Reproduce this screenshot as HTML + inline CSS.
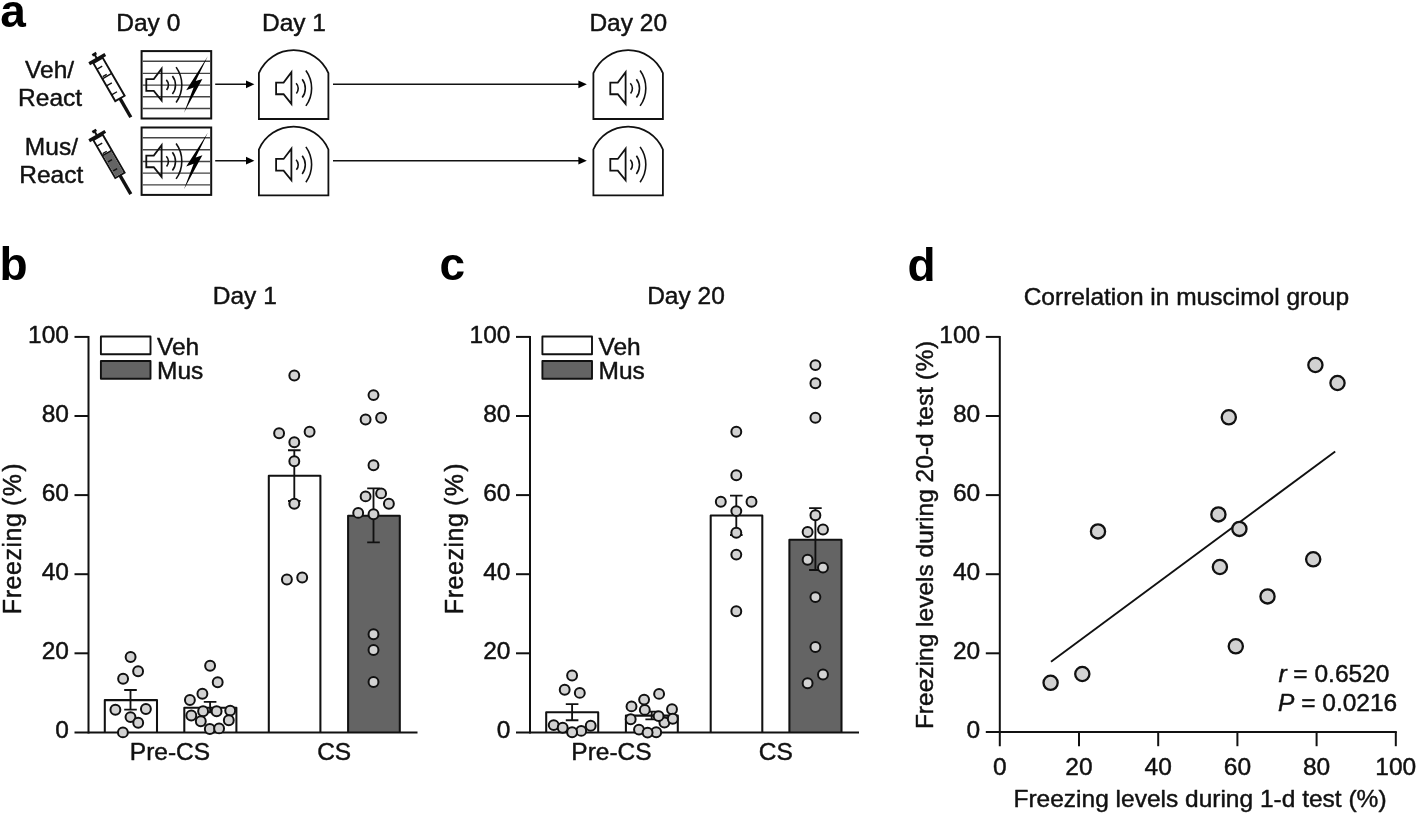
<!DOCTYPE html>
<html><head><meta charset="utf-8"><title>Figure</title>
<style>
html,body{margin:0;padding:0;background:#fff;}
body{width:1418px;height:814px;overflow:hidden;}
svg{display:block;will-change:transform;}
text{font-family:"Liberation Sans",sans-serif;fill:#111;}
.t{stroke:#111;stroke-width:0.45px;stroke-linejoin:round;}
.t{font-size:24.50px;}
.b{font-size:46.00px;font-weight:bold;fill:#000;}
.ax{stroke:#111;stroke-width:2.0;fill:none;}
.dot{fill:#d2d2d2;stroke:#111;stroke-width:2.0;}
.bigdot{fill:#d2d2d2;stroke:#111;stroke-width:2.3;}
.ic{stroke:#111;fill:none;stroke-width:1.8;stroke-linejoin:miter;}
</style></head><body>
<svg width="1418" height="814" viewBox="0 0 1418 814">
<rect width="1418" height="814" fill="#fff"/>
<defs>
<g id="spk" class="ic">
<path d="M0,-5.85 H7.5 L15.3,-16.2 V15.5 L7.5,5.85 H0 Z"/>
<path d="M20,-5.1 A7.5,7.5 0 0 1 20.3,5" stroke-width="1.6"/>
<path d="M26.1,-9.1 A14.9,14.9 0 0 1 26.1,9.1" stroke-width="1.6"/>
<path d="M29.8,-17.9 A30.3,30.3 0 0 1 29.8,17.5" stroke-width="1.6"/>
</g>
<path id="chm" class="ic" stroke-width="1.9" d="M0,0 V-45.9 A37.8,37.8 0 0 1 69.5,-45.9 V0 Z"/>
<g id="syr">
<rect x="-2.3" y="0" width="4.6" height="2.7" fill="#111"/>
<rect x="-1.0" y="2" width="2.0" height="4" fill="#111"/>
<rect x="-9.3" y="5.4" width="18.6" height="3.4" fill="#111"/>
<rect x="-1.7" y="52.5" width="3.4" height="21.7" fill="#111"/>
</g>
<g id="syrt" stroke="#111" stroke-width="1.4" fill="none">
<path d="M-5.4,15.7 H0.8 M-4.0,25.0 H0.6"/>
<path d="M-5.4,26.7 H5.4" stroke-width="1.5"/>
</g>
<path id="bolt" fill="#000" d="M207.8,56.3 L186.2,90.2 L193.6,87.4 L184.0,112.8 L202.4,78.9 L195.7,81.1 Z"/>
</defs>
<text class="b" x="0.3" y="27.2">a</text>
<text class="t" x="148.3" y="31.2" text-anchor="middle">Day 0</text>
<text class="t" x="294.0" y="31.2" text-anchor="middle">Day 1</text>
<text class="t" x="628.2" y="31.2" text-anchor="middle">Day 20</text>
<text class="t" x="49.6" y="77.8" text-anchor="middle">Veh/</text>
<text class="t" x="50.1" y="105.8" text-anchor="middle">React</text>
<text class="t" x="51.4" y="155.0" text-anchor="middle">Mus/</text>
<text class="t" x="51.3" y="182.6" text-anchor="middle">React</text>
<g transform="translate(0,0.0)">
<g transform="translate(93.7,53.0) rotate(-30)">
<use href="#syr"/>
<rect x="-5.4" y="8.6" width="10.8" height="43.9" fill="#fff" stroke="#111" stroke-width="1.9"/>
<path d="M-5.4,34.9 H0.8 M-5.4,45.2 H0.8" stroke="#111" stroke-width="1.4" fill="none"/>
<use href="#syrt"/>
</g>
<rect x="141.6" y="51.1" width="69.6" height="67.4" fill="#fff" stroke="#111" stroke-width="2"/>
<path d="M142.6,61.3 H210.2 M142.6,73.4 H210.2 M142.6,85.1 H210.2 M142.6,96.7 H210.2 M142.6,108.5 H210.2" stroke="#444" stroke-width="1.4" fill="none"/>
<use href="#spk" x="146.3" y="85"/>
<use href="#bolt"/>
<path d="M215.2,84.3 H248" stroke="#111" stroke-width="1.5" fill="none"/>
<path d="M254.4,84.3 L246.0,80.4 V88.2 Z" fill="#000"/>
<use href="#chm" x="258.9" y="119.0"/>
<use href="#spk" x="276.1" y="88.4"/>
<path d="M333,84.3 H580" stroke="#111" stroke-width="1.5" fill="none"/>
<path d="M586.8,84.3 L578.4,80.4 V88.2 Z" fill="#000"/>
<use href="#chm" x="593.4" y="119.0"/>
<use href="#spk" x="610.3" y="88.4"/>
</g>
<g transform="translate(0,76.4)">
<g transform="translate(93.7,53.5) rotate(-30)">
<use href="#syr"/>
<rect x="-5.4" y="8.6" width="10.8" height="43.9" fill="#fff" stroke="#111" stroke-width="1.9"/>
<rect x="-4.5" y="26.7" width="9" height="24.9" fill="#646464"/>
<path d="M-3.6,34.9 H1.0 M-3.6,45.2 H1.0" stroke="#111" stroke-width="1.4" fill="none"/>
<use href="#syrt"/>
</g>
<rect x="141.6" y="51.1" width="69.6" height="67.4" fill="#fff" stroke="#111" stroke-width="2"/>
<path d="M142.6,61.3 H210.2 M142.6,73.4 H210.2 M142.6,85.1 H210.2 M142.6,96.7 H210.2 M142.6,108.5 H210.2" stroke="#444" stroke-width="1.4" fill="none"/>
<use href="#spk" x="146.3" y="85"/>
<use href="#bolt"/>
<path d="M215.2,84.3 H248" stroke="#111" stroke-width="1.5" fill="none"/>
<path d="M254.4,84.3 L246.0,80.4 V88.2 Z" fill="#000"/>
<use href="#chm" x="258.9" y="119.0"/>
<use href="#spk" x="276.1" y="88.4"/>
<path d="M333,84.3 H580" stroke="#111" stroke-width="1.5" fill="none"/>
<path d="M586.8,84.3 L578.4,80.4 V88.2 Z" fill="#000"/>
<use href="#chm" x="593.4" y="119.0"/>
<use href="#spk" x="610.3" y="88.4"/>
</g>
<text class="b" x="-0.6" y="279.7">b</text>
<text class="t" x="244.8" y="304.2" text-anchor="middle">Day 1</text>
<text class="t" transform="translate(21.1,614.2) rotate(-90)" style="font-size:25px" dx="0 .55 .55 .55 .55 .55 .55 .55 0 0 1.6 2.2">Freezing (%)</text>
<path d="M104.8,732.4 V700.1 H157.0 V732.4" fill="#fff" stroke="#111" stroke-width="2.05" stroke-linejoin="round"/>
<path d="M184.3,732.4 V707.7 H236.4 V732.4" fill="#fff" stroke="#111" stroke-width="2.05" stroke-linejoin="round"/>
<path d="M268.8,732.4 V475.8 H320.4 V732.4" fill="#fff" stroke="#111" stroke-width="2.05" stroke-linejoin="round"/>
<path d="M348.1,732.4 V515.8 H399.8 V732.4" fill="#646464" stroke="#111" stroke-width="2.05" stroke-linejoin="round"/>
<path class="ax" d="M88.5,335.9 V733.4"/>
<path class="ax" d="M74.5,732.4 H417.5"/>
<path class="ax" d="M74.5,653.3 H88.5"/>
<path class="ax" d="M74.5,574.2 H88.5"/>
<path class="ax" d="M74.5,495.1 H88.5"/>
<path class="ax" d="M74.5,416.0 H88.5"/>
<path class="ax" d="M74.5,336.9 H88.5"/>
<text class="t" x="68.9" y="738.3" text-anchor="end">0</text>
<text class="t" x="68.9" y="659.2" text-anchor="end">20</text>
<text class="t" x="68.9" y="580.1" text-anchor="end">40</text>
<text class="t" x="68.9" y="501.0" text-anchor="end">60</text>
<text class="t" x="68.9" y="421.9" text-anchor="end">80</text>
<text class="t" x="68.9" y="342.8" text-anchor="end">100</text>
<path d="M130.5,690.0 V709.6 M124.2,690.0 H136.8 M124.2,709.6 H136.8" stroke="#111" stroke-width="1.85" fill="none"/>
<path d="M210.1,701.9 V712.4 M203.8,701.9 H216.4 M203.8,712.4 H216.4" stroke="#111" stroke-width="1.85" fill="none"/>
<path d="M294.3,450.2 V501.0 M288.0,450.2 H300.6 M288.0,501.0 H300.6" stroke="#111" stroke-width="1.85" fill="none"/>
<path d="M373.5,488.3 V542.4 M367.2,488.3 H379.8 M367.2,542.4 H379.8" stroke="#111" stroke-width="1.85" fill="none"/>
<circle class="dot" cx="130.6" cy="657.0" r="4.95"/>
<circle class="dot" cx="138.1" cy="671.3" r="4.95"/>
<circle class="dot" cx="123.1" cy="678.7" r="4.95"/>
<circle class="dot" cx="115.4" cy="709.7" r="4.95"/>
<circle class="dot" cx="145.9" cy="709.0" r="4.95"/>
<circle class="dot" cx="130.5" cy="717.1" r="4.95"/>
<circle class="dot" cx="138.2" cy="722.8" r="4.95"/>
<circle class="dot" cx="122.9" cy="732.4" r="4.95"/>
<circle class="dot" cx="210.1" cy="665.8" r="4.95"/>
<circle class="dot" cx="217.7" cy="682.3" r="4.95"/>
<circle class="dot" cx="202.4" cy="693.8" r="4.95"/>
<circle class="dot" cx="189.9" cy="700.0" r="4.95"/>
<circle class="dot" cx="203.1" cy="711.3" r="4.95"/>
<circle class="dot" cx="216.6" cy="711.3" r="4.95"/>
<circle class="dot" cx="230.2" cy="710.6" r="4.95"/>
<circle class="dot" cx="191.3" cy="715.5" r="4.95"/>
<circle class="dot" cx="200.8" cy="721.3" r="4.95"/>
<circle class="dot" cx="228.8" cy="720.2" r="4.95"/>
<circle class="dot" cx="209.8" cy="729.0" r="4.95"/>
<circle class="dot" cx="219.1" cy="728.4" r="4.95"/>
<circle class="dot" cx="294.3" cy="375.5" r="4.95"/>
<circle class="dot" cx="279.1" cy="433.2" r="4.95"/>
<circle class="dot" cx="309.6" cy="431.8" r="4.95"/>
<circle class="dot" cx="294.3" cy="442.3" r="4.95"/>
<circle class="dot" cx="294.3" cy="461.3" r="4.95"/>
<circle class="dot" cx="294.3" cy="503.8" r="4.95"/>
<circle class="dot" cx="286.9" cy="579.5" r="4.95"/>
<circle class="dot" cx="302.2" cy="577.5" r="4.95"/>
<circle class="dot" cx="373.5" cy="395.1" r="4.95"/>
<circle class="dot" cx="365.6" cy="419.5" r="4.95"/>
<circle class="dot" cx="381.1" cy="417.8" r="4.95"/>
<circle class="dot" cx="373.5" cy="465.2" r="4.95"/>
<circle class="dot" cx="365.6" cy="496.4" r="4.95"/>
<circle class="dot" cx="381.1" cy="493.4" r="4.95"/>
<circle class="dot" cx="388.9" cy="503.8" r="4.95"/>
<circle class="dot" cx="358.2" cy="512.9" r="4.95"/>
<circle class="dot" cx="373.5" cy="514.3" r="4.95"/>
<circle class="dot" cx="373.5" cy="634.3" r="4.95"/>
<circle class="dot" cx="373.5" cy="650.0" r="4.95"/>
<circle class="dot" cx="373.5" cy="682.0" r="4.95"/>
<rect x="100.9" y="336.5" width="49.6" height="17.8" fill="#fff" stroke="#111" stroke-width="1.9" stroke-linejoin="round"/>
<rect x="100.9" y="361.0" width="49.6" height="17.8" fill="#646464" stroke="#111" stroke-width="1.9" stroke-linejoin="round"/>
<text class="t" x="157.0" y="354.6">Veh</text>
<text class="t" x="157.0" y="379.0">Mus</text>
<text class="t" x="170.0" y="759.8" text-anchor="middle">Pre-CS</text>
<text class="t" x="334.2" y="759.8" text-anchor="middle">CS</text>
<text class="b" x="439.5" y="279.7">c</text>
<text class="t" x="686.0" y="304.2" text-anchor="middle">Day 20</text>
<text class="t" transform="translate(463.1,614.2) rotate(-90)" style="font-size:25px" dx="0 .55 .55 .55 .55 .55 .55 .55 0 0 1.6 2.2">Freezing (%)</text>
<path d="M546.2,732.4 V712.2 H598.2 V732.4" fill="#fff" stroke="#111" stroke-width="2.05" stroke-linejoin="round"/>
<path d="M625.9,732.4 V715.6 H677.8 V732.4" fill="#fff" stroke="#111" stroke-width="2.05" stroke-linejoin="round"/>
<path d="M710.7,732.4 V515.5 H762.3 V732.4" fill="#fff" stroke="#111" stroke-width="2.05" stroke-linejoin="round"/>
<path d="M789.4,732.4 V539.8 H841.5 V732.4" fill="#646464" stroke="#111" stroke-width="2.05" stroke-linejoin="round"/>
<path class="ax" d="M530.0,335.9 V733.4"/>
<path class="ax" d="M516.0,732.4 H859.0"/>
<path class="ax" d="M516.0,653.3 H530.0"/>
<path class="ax" d="M516.0,574.2 H530.0"/>
<path class="ax" d="M516.0,495.1 H530.0"/>
<path class="ax" d="M516.0,416.0 H530.0"/>
<path class="ax" d="M516.0,336.9 H530.0"/>
<text class="t" x="510.4" y="738.3" text-anchor="end">0</text>
<text class="t" x="510.4" y="659.2" text-anchor="end">20</text>
<text class="t" x="510.4" y="580.1" text-anchor="end">40</text>
<text class="t" x="510.4" y="501.0" text-anchor="end">60</text>
<text class="t" x="510.4" y="421.9" text-anchor="end">80</text>
<text class="t" x="510.4" y="342.8" text-anchor="end">100</text>
<path d="M572.1,704.1 V720.2 M565.8,704.1 H578.4 M565.8,720.2 H578.4" stroke="#111" stroke-width="1.85" fill="none"/>
<path d="M651.7,711.6 V719.3 M645.4,711.6 H658.0 M645.4,719.3 H658.0" stroke="#111" stroke-width="1.85" fill="none"/>
<path d="M736.3,495.6 V535.0 M730.0,495.6 H742.6 M730.0,535.0 H742.6" stroke="#111" stroke-width="1.85" fill="none"/>
<path d="M815.4,508.1 V570.0 M809.1,508.1 H821.7 M809.1,570.0 H821.7" stroke="#111" stroke-width="1.85" fill="none"/>
<circle class="dot" cx="572.1" cy="675.5" r="4.95"/>
<circle class="dot" cx="564.7" cy="689.7" r="4.95"/>
<circle class="dot" cx="579.8" cy="692.9" r="4.95"/>
<circle class="dot" cx="553.7" cy="725.1" r="4.95"/>
<circle class="dot" cx="590.7" cy="725.8" r="4.95"/>
<circle class="dot" cx="562.7" cy="727.7" r="4.95"/>
<circle class="dot" cx="581.2" cy="730.9" r="4.95"/>
<circle class="dot" cx="572.1" cy="732.2" r="4.95"/>
<circle class="dot" cx="659.1" cy="693.9" r="4.95"/>
<circle class="dot" cx="644.1" cy="699.6" r="4.95"/>
<circle class="dot" cx="631.5" cy="706.4" r="4.95"/>
<circle class="dot" cx="644.8" cy="709.9" r="4.95"/>
<circle class="dot" cx="672.0" cy="709.3" r="4.95"/>
<circle class="dot" cx="664.4" cy="722.5" r="4.95"/>
<circle class="dot" cx="658.6" cy="716.1" r="4.95"/>
<circle class="dot" cx="630.7" cy="719.3" r="4.95"/>
<circle class="dot" cx="672.8" cy="718.7" r="4.95"/>
<circle class="dot" cx="639.0" cy="729.6" r="4.95"/>
<circle class="dot" cx="656.2" cy="732.2" r="4.95"/>
<circle class="dot" cx="647.6" cy="732.6" r="4.95"/>
<circle class="dot" cx="736.3" cy="431.7" r="4.95"/>
<circle class="dot" cx="736.3" cy="475.2" r="4.95"/>
<circle class="dot" cx="720.8" cy="501.7" r="4.95"/>
<circle class="dot" cx="751.5" cy="501.7" r="4.95"/>
<circle class="dot" cx="736.3" cy="511.1" r="4.95"/>
<circle class="dot" cx="736.3" cy="532.7" r="4.95"/>
<circle class="dot" cx="736.3" cy="554.6" r="4.95"/>
<circle class="dot" cx="736.3" cy="611.3" r="4.95"/>
<circle class="dot" cx="815.4" cy="365.1" r="4.95"/>
<circle class="dot" cx="815.4" cy="383.3" r="4.95"/>
<circle class="dot" cx="815.4" cy="417.7" r="4.95"/>
<circle class="dot" cx="815.4" cy="515.2" r="4.95"/>
<circle class="dot" cx="807.6" cy="532.0" r="4.95"/>
<circle class="dot" cx="823.0" cy="529.5" r="4.95"/>
<circle class="dot" cx="807.6" cy="559.7" r="4.95"/>
<circle class="dot" cx="823.0" cy="567.6" r="4.95"/>
<circle class="dot" cx="815.4" cy="597.1" r="4.95"/>
<circle class="dot" cx="815.4" cy="647.0" r="4.95"/>
<circle class="dot" cx="823.0" cy="674.5" r="4.95"/>
<circle class="dot" cx="807.6" cy="683.3" r="4.95"/>
<rect x="542.4" y="336.5" width="49.6" height="17.8" fill="#fff" stroke="#111" stroke-width="1.9" stroke-linejoin="round"/>
<rect x="542.4" y="361.0" width="49.6" height="17.8" fill="#646464" stroke="#111" stroke-width="1.9" stroke-linejoin="round"/>
<text class="t" x="598.5" y="354.6">Veh</text>
<text class="t" x="598.5" y="379.0">Mus</text>
<text class="t" x="611.5" y="759.8" text-anchor="middle">Pre-CS</text>
<text class="t" x="775.8" y="759.8" text-anchor="middle">CS</text>
<text class="b" x="907.5" y="280.5">d</text>
<text class="t" x="1186.4" y="304.7" text-anchor="middle">Correlation in muscimol group</text>
<text class="t" transform="translate(932.6,535) rotate(-90)" text-anchor="middle" dx="0 0 0 0 0 0 0 0 0 0 0 0 0 0 0 0 0 0 0 0 0 0 0 0 0 0 0 0 0 0 0 0 0 0 0.5 0.6">Freezing levels during 20-d test (%)</text>
<text class="t" x="1200.0" y="806.6" text-anchor="middle">Freezing levels during 1-d test (%)</text>
<path class="ax" d="M999.8,335.9 V746.2"/>
<path class="ax" d="M985.8,732.0 H1396.8"/>
<path class="ax" d="M985.8,653.3 H999.8"/>
<path class="ax" d="M1079.0,732.0 V746.2"/>
<path class="ax" d="M985.8,574.2 H999.8"/>
<path class="ax" d="M1158.2,732.0 V746.2"/>
<path class="ax" d="M985.8,495.1 H999.8"/>
<path class="ax" d="M1237.4,732.0 V746.2"/>
<path class="ax" d="M985.8,416.0 H999.8"/>
<path class="ax" d="M1316.6,732.0 V746.2"/>
<path class="ax" d="M985.8,336.9 H999.8"/>
<path class="ax" d="M1395.8,732.0 V746.2"/>
<text class="t" x="980.2" y="738.3" text-anchor="end">0</text>
<text class="t" x="999.8" y="774.9" text-anchor="middle">0</text>
<text class="t" x="980.2" y="659.2" text-anchor="end">20</text>
<text class="t" x="1079.0" y="774.9" text-anchor="middle">20</text>
<text class="t" x="980.2" y="580.1" text-anchor="end">40</text>
<text class="t" x="1158.2" y="774.9" text-anchor="middle">40</text>
<text class="t" x="980.2" y="501.0" text-anchor="end">60</text>
<text class="t" x="1237.4" y="774.9" text-anchor="middle">60</text>
<text class="t" x="980.2" y="421.9" text-anchor="end">80</text>
<text class="t" x="1316.6" y="774.9" text-anchor="middle">80</text>
<text class="t" x="980.2" y="342.8" text-anchor="end">100</text>
<text class="t" x="1395.8" y="774.9" text-anchor="middle">100</text>
<path d="M1051.0,661.8 L1335.2,451.5" stroke="#111" stroke-width="1.9" fill="none"/>
<circle class="bigdot" cx="1050.6" cy="682.8" r="7.1"/>
<circle class="bigdot" cx="1082.3" cy="674.0" r="7.1"/>
<circle class="bigdot" cx="1098.0" cy="531.4" r="7.1"/>
<circle class="bigdot" cx="1218.4" cy="514.4" r="7.1"/>
<circle class="bigdot" cx="1239.4" cy="528.9" r="7.1"/>
<circle class="bigdot" cx="1219.9" cy="567.0" r="7.1"/>
<circle class="bigdot" cx="1228.8" cy="417.3" r="7.1"/>
<circle class="bigdot" cx="1235.8" cy="646.3" r="7.1"/>
<circle class="bigdot" cx="1267.5" cy="596.4" r="7.1"/>
<circle class="bigdot" cx="1313.2" cy="559.3" r="7.1"/>
<circle class="bigdot" cx="1315.4" cy="365.0" r="7.1"/>
<circle class="bigdot" cx="1337.5" cy="383.0" r="7.1"/>
<text class="t" x="1278.4" y="682.3"><tspan font-style="italic">r</tspan> = 0.6520</text>
<text class="t" x="1278.0" y="711.4"><tspan font-style="italic">P</tspan> = 0.0216</text>
</svg></body></html>
